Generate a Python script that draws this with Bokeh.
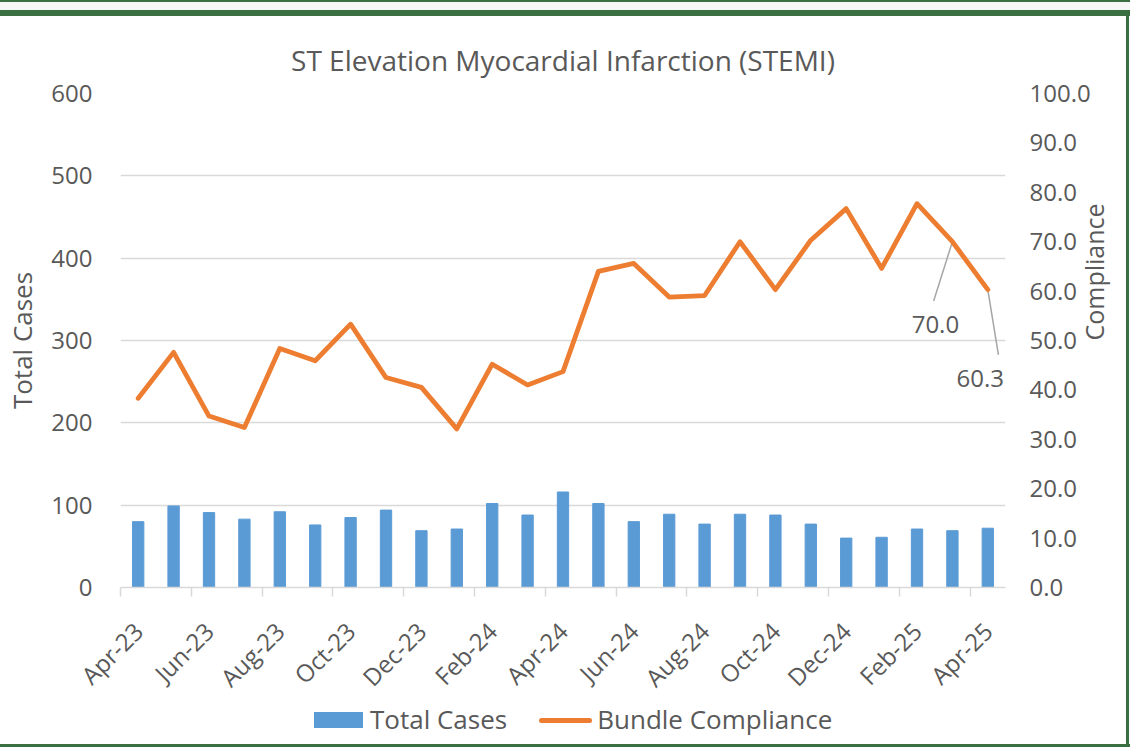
import math
from bokeh.plotting import figure
from bokeh.models import (Range1d, LinearAxis, FixedTicker, NumeralTickFormatter,
                          Label, Div, InlineStyleSheet)
from bokeh.layouts import column
from bokeh.embed import file_html
from bokeh.resources import INLINE

# ---------------- data ----------------
months = ["Apr-23", "May-23", "Jun-23", "Jul-23", "Aug-23", "Sep-23", "Oct-23",
          "Nov-23", "Dec-23", "Jan-24", "Feb-24", "Mar-24", "Apr-24", "May-24",
          "Jun-24", "Jul-24", "Aug-24", "Sep-24", "Oct-24", "Nov-24", "Dec-24",
          "Jan-25", "Feb-25", "Mar-25", "Apr-25"]
total_cases = [80, 99, 91, 83, 92, 76, 85, 94, 69, 71, 102, 88, 116, 102,
               80, 89, 77, 89, 88, 77, 60, 61, 71, 69, 72]
compliance = [38.3, 47.6, 34.7, 32.4, 48.4, 45.9, 53.3, 42.5, 40.5, 32.1, 45.2,
              41.0, 43.7, 64.0, 65.6, 58.8, 59.1, 70.0, 60.3, 70.3, 76.7, 64.6,
              77.7, 70.0, 60.3]
left_ticks = [0, 100, 200, 300, 400, 500, 600]
right_ticks = [0, 10, 20, 30, 40, 50, 60, 70, 80, 90, 100]
labelled_points = [23, 24]
series_names = ["Total Cases", "Bundle Compliance"]

FONT = "Open Sans"
TXT = "#595959"
GRID = "#D9D9D9"
BLUE = "#5B9BD5"
ORANGE = "#ED7D31"
GREEN = "#3A7041"
FS = "24px"
FS_T = "28px"
FS_A = "26px"

x = list(range(len(months)))

p = figure(width=1130, height=692, output_backend="svg", toolbar_location=None,
           x_range=Range1d(-0.5, len(months) - 0.5), y_range=Range1d(0, 600),
           min_border_left=120, min_border_right=125, min_border_top=77,
           min_border_bottom=120, background_fill_color="white",
           border_fill_color="white", outline_line_color=None)
p.extra_y_ranges = {"pct": Range1d(0, 100)}

# title
p.title.text = "ST Elevation Myocardial Infarction (STEMI)"
p.title.align = "center"
p.title.text_font = FONT
p.title.text_font_size = FS_T
p.title.text_font_style = "normal"
p.title.text_color = TXT
p.title.standoff = 30

# grid
p.xgrid.visible = False
p.ygrid.grid_line_color = GRID
p.ygrid.grid_line_width = 1.5

def style_axis_label(ax, size):
    ax.axis_label_text_font = FONT
    ax.axis_label_text_font_size = size
    ax.axis_label_text_font_style = "normal"
    ax.axis_label_text_color = TXT

# left axis
ya = p.yaxis[0]
ya.ticker = FixedTicker(ticks=left_ticks)
ya.axis_line_color = None
ya.major_tick_out = 0
ya.major_tick_in = 0
ya.minor_tick_line_color = None
ya.major_tick_line_color = None
ya.major_label_standoff = 28
ya.major_label_text_font = FONT
ya.major_label_text_font_size = FS
ya.major_label_text_color = TXT
ya.axis_label = "Total Cases"
ya.axis_label_standoff = 8
style_axis_label(ya, FS_A)

# right axis
ra = LinearAxis(y_range_name="pct", ticker=FixedTicker(ticks=right_ticks),
                formatter=NumeralTickFormatter(format="0.0"))
ra.axis_line_color = None
ra.major_tick_out = 0
ra.major_tick_in = 0
ra.minor_tick_line_color = None
ra.major_tick_line_color = None
ra.major_label_standoff = 24
ra.major_label_text_font = FONT
ra.major_label_text_font_size = FS
ra.major_label_text_color = TXT
ra.axis_label = "Compliance"
ra.axis_label_standoff = 0
style_axis_label(ra, "25px")
if "axis_label_orientation" in ra.properties():
    ra.axis_label_orientation = math.pi / 2
p.add_layout(ra, "right")

# bottom axis
xa = p.xaxis[0]
major = list(range(0, len(months), 2))
xa.ticker = FixedTicker(ticks=major, minor_ticks=[i - 0.5 for i in major])
xa.major_label_overrides = {i: months[i] for i in major}
xa.major_label_orientation = math.pi / 4
xa.axis_line_color = GRID
xa.axis_line_width = 1.5
xa.major_tick_out = 0
xa.major_tick_in = 0
xa.major_tick_line_color = None
xa.minor_tick_out = 9
xa.minor_tick_in = 0
xa.minor_tick_line_color = GRID
xa.minor_tick_line_width = 1.5
xa.major_label_standoff = 30
xa.major_label_text_font = FONT
xa.major_label_text_font_size = FS
xa.major_label_text_color = TXT

# bars
p.vbar(x=x, top=total_cases, width=0.32, fill_color=BLUE, line_color=BLUE)

# leader lines for data labels
lx0 = [labelled_points[0], labelled_points[1]]
ly0 = [compliance[i] for i in labelled_points]
p.segment(x0=lx0, y0=ly0, x1=[lx0[0] - 0.53, lx0[1] + 0.3],
          y1=[ly0[0] - 12.0, ly0[1] - 13.2], y_range_name="pct",
          line_color="#A6A6A6", line_width=1.5)

# line
p.line(x, compliance, y_range_name="pct", line_color=ORANGE, line_width=4.8,
       line_join="round", line_cap="round")

# data labels
p.add_layout(Label(x=labelled_points[0] - 0.48, y=compliance[labelled_points[0]] - 16.7,
                   y_range_name="pct", text=f"{compliance[labelled_points[0]]:.1f}",
                   text_font=FONT, text_font_size=FS, text_color=TXT,
                   text_align="center", text_baseline="middle"))
p.add_layout(Label(x=labelled_points[1] + 0.46, y=compliance[labelled_points[1]] - 17.9,
                   y_range_name="pct", text=f"{compliance[labelled_points[1]]:.1f}",
                   text_font=FONT, text_font_size=FS, text_color=TXT,
                   text_align="right", text_baseline="middle"))

# legend strip below the chart
legend_html = (
    f'<div style="display:flex;align-items:center;height:24px;padding-left:314px;'
    f'font-family:\'{FONT}\';font-size:{FS_A};color:{TXT};white-space:nowrap;">'
    f'<span style="display:inline-block;width:49px;height:16px;background:{BLUE};"></span>'
    f'<span style="margin-left:7px;">{series_names[0]}</span>'
    f'<span style="display:inline-block;width:53px;height:5px;border-radius:3px;'
    f'background:{ORANGE};margin-left:32px;"></span>'
    f'<span style="margin-left:5px;">{series_names[1]}</span></div>'
)
legend_div = Div(text=legend_html, width=1130, height=36, margin=0)

# outer frame decoration
def band(h, color, w=1130):
    return Div(text="", width=w, height=h, margin=0,
               styles={"background-color": color})

frame_css = InlineStyleSheet(css=(
    ":host::after { content: ''; position: absolute; top: 10px; bottom: 0px; "
    f"right: 1px; width: 3px; background: {GREEN}; z-index: 10; pointer-events: none; }}"
))

page = column(band(2, GREEN), band(8, "#F7F7F7"), band(6, GREEN), p, legend_div,
              band(3, GREEN), spacing=0, stylesheets=[frame_css])

open("out.html", "w").write(file_html(page, INLINE))
